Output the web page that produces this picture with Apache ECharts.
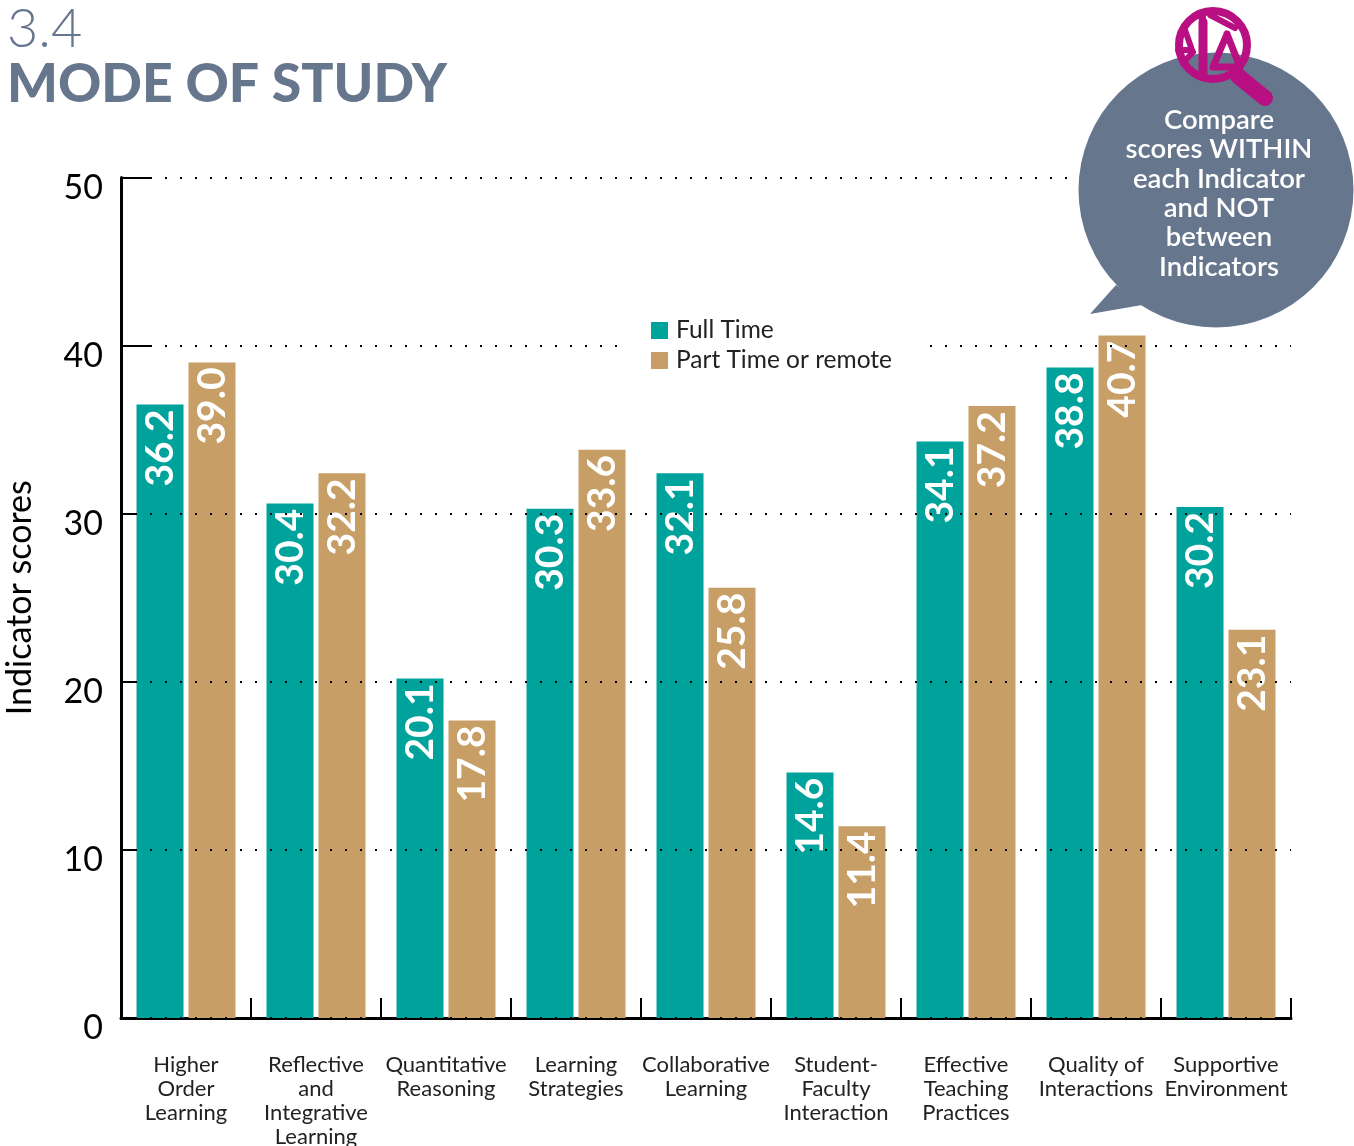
<!DOCTYPE html>
<html>
<head>
<meta charset="utf-8">
<title>Mode of study</title>
<script src="https://cdn.jsdelivr.net/npm/echarts@6/dist/echarts.min.js"></script>
<style>
  html, body { margin: 0; padding: 0; background: #fff; }
  #chart { width: 1354px; height: 1146px; }
</style>
</head>
<body>
<div id="chart"></div>
<script>
const categories = [
  'Higher\nOrder\nLearning',
  'Reflective\nand\nIntegrative\nLearning',
  'Quantitative\nReasoning',
  'Learning\nStrategies',
  'Collaborative\nLearning',
  'Student-\nFaculty\nInteraction',
  'Effective\nTeaching\nPractices',
  'Quality of\nInteractions',
  'Supportive\nEnvironment'
]
// bar heights as drawn in the picture; they drift a little from the printed numbers (37.2 is drawn near 36.4)
const fullTimeBars = [36.5, 30.6, 20.2, 30.3, 32.4, 14.6, 34.3, 38.7, 30.4]
const partTimeBars = [39.0, 32.4, 17.7, 33.8, 25.6, 11.4, 36.4, 40.6, 23.1]
// numbers printed on the bars
const fullTimeLabels = ['36.2', '30.4', '20.1', '30.3', '32.1', '14.6', '34.1', '38.8', '30.2']
const partTimeLabels = ['39.0', '32.2', '17.8', '33.6', '25.8', '11.4', '37.2', '40.7', '23.1']
const seriesNames = ['Full Time', 'Part Time or remote']
const calloutText = 'Compare\nscores WITHIN\neach Indicator\nand NOT\nbetween\nIndicators'

const FONT = 'Lato, "Noto Sans", sans-serif'
const TEAL = '#00a39b'
const TAN = '#c79e66'
const SLATE = '#66768d'
const MAGENTA = '#b80f82'

function barSeries (name, data, labels, color) {
  return {
    name: name,
    type: 'bar',
    data: data,
    barWidth: 47,
    barGap: '10.6%',
    itemStyle: { color: color },
    label: {
      show: true,
      position: 'insideTop',
      distance: 8,
      offset: [3, 0],
      rotate: 90,
      align: 'right',
      verticalAlign: 'middle',
      color: '#fff',
      fontFamily: FONT,
      fontWeight: 700,
      fontSize: 39,
      formatter: function (p) { return labels[p.dataIndex] }
    }
  }
}

// magnifier + scales sitting on top of the speech bubble
function magLine (points, width) {
  return {
    type: 'polyline',
    z: 7,
    shape: { points: points },
    style: { stroke: MAGENTA, lineWidth: width, fill: null, lineCap: 'round', lineJoin: 'round' }
  }
}

const chart = echarts.init(document.getElementById('chart'))
chart.setOption({
  backgroundColor: '#fff',
  animation: false,
  title: [
    { text: '3.4', left: 2, top: -2, textStyle: { color: SLATE, fontFamily: FONT, fontWeight: 300, fontSize: 54 } },
    { text: 'MODE OF STUDY', left: 2, top: 53, textStyle: { color: SLATE, fontFamily: FONT, fontWeight: 900, fontSize: 53.5 } }
  ],
  legend: {
    orient: 'vertical',
    left: 618,
    top: 316,
    padding: [2, 33, 2, 33],
    backgroundColor: '#fff',
    itemWidth: 17,
    itemHeight: 17,
    itemGap: 5,
    icon: 'rect',
    selectedMode: false,
    textStyle: { color: '#222', fontFamily: FONT, fontSize: 24.5, padding: [0, 0, 0, 3] },
    data: seriesNames
  },
  grid: { left: 121, right: 63, top: 177.5, bottom: 128, outerBoundsMode: 'none' },
  xAxis: {
    type: 'category',
    data: categories,
    axisLine: { lineStyle: { color: '#000', width: 3 } },
    axisTick: { show: true, inside: true, length: 20, lineStyle: { color: '#000', width: 2 } },
    axisLabel: {
      interval: 0,
      margin: 35,
      color: '#222',
      fontFamily: FONT,
      fontSize: 22,
      lineHeight: 24,
      verticalAlign: 'top'
    }
  },
  yAxis: [
    {
      type: 'value',
      min: 0,
      max: 50,
      interval: 10,
      name: 'Indicator scores',
      nameLocation: 'middle',
      nameGap: 84,
      nameTextStyle: { color: '#000', fontFamily: FONT, fontSize: 34 },
      axisLine: { show: true, lineStyle: { color: '#000', width: 3 } },
      axisTick: { show: true, inside: true, length: 30, lineStyle: { color: '#000', width: 2 } },
      axisLabel: { margin: 18, color: '#000', fontFamily: FONT, fontSize: 34, lineHeight: 21, verticalAlign: 'top' },
      splitLine: { show: false }
    },
    {
      // dotted grid runs over the bars, so it lives on its own axis above them
      type: 'value',
      min: 0,
      max: 50,
      interval: 10,
      position: 'left',
      z: 3,
      axisLine: { show: false },
      axisTick: { show: false },
      axisLabel: { show: false },
      splitLine: { show: true, lineStyle: { color: '#000', width: 2, type: [2, 13], dashOffset: 1 } }
    }
  ],
  series: [
    barSeries(seriesNames[0], fullTimeBars, fullTimeLabels, TEAL),
    barSeries(seriesNames[1], partTimeBars, partTimeLabels, TAN)
  ],
  graphic: [
    { type: 'circle', z: 5, shape: { cx: 1216, cy: 190, r: 137.5 }, style: { fill: SLATE } },
    { type: 'polygon', z: 5, shape: { points: [[1090, 314], [1116, 285], [1142, 305]] }, style: { fill: SLATE } },
    {
      type: 'text',
      z: 6,
      style: {
        text: calloutText,
        x: 1219,
        y: 105.5,
        fill: '#fff',
        font: '600 27.5px ' + FONT,
        align: 'center',
        lineHeight: 29.3
      }
    },
    { type: 'circle', z: 7, shape: { cx: 1213, cy: 45, r: 34 }, style: { fill: null, stroke: MAGENTA, lineWidth: 8 } },
    magLine([[1238, 76], [1265, 98]], 16),
    magLine([[1203, 22], [1203, 76]], 9),
    { type: 'circle', z: 7, shape: { cx: 1202, cy: 17, r: 4 }, style: { fill: MAGENTA } },
    magLine([[1210, 15], [1235, 28]], 6),
    magLine([[1227, 34], [1213, 67], [1240, 67], [1227, 34]], 7),
    magLine([[1185, 30], [1192, 50], [1178, 50]], 6),
    magLine([[1193, 52], [1183, 63]], 6)
  ]
})
</script>
</body>
</html>
